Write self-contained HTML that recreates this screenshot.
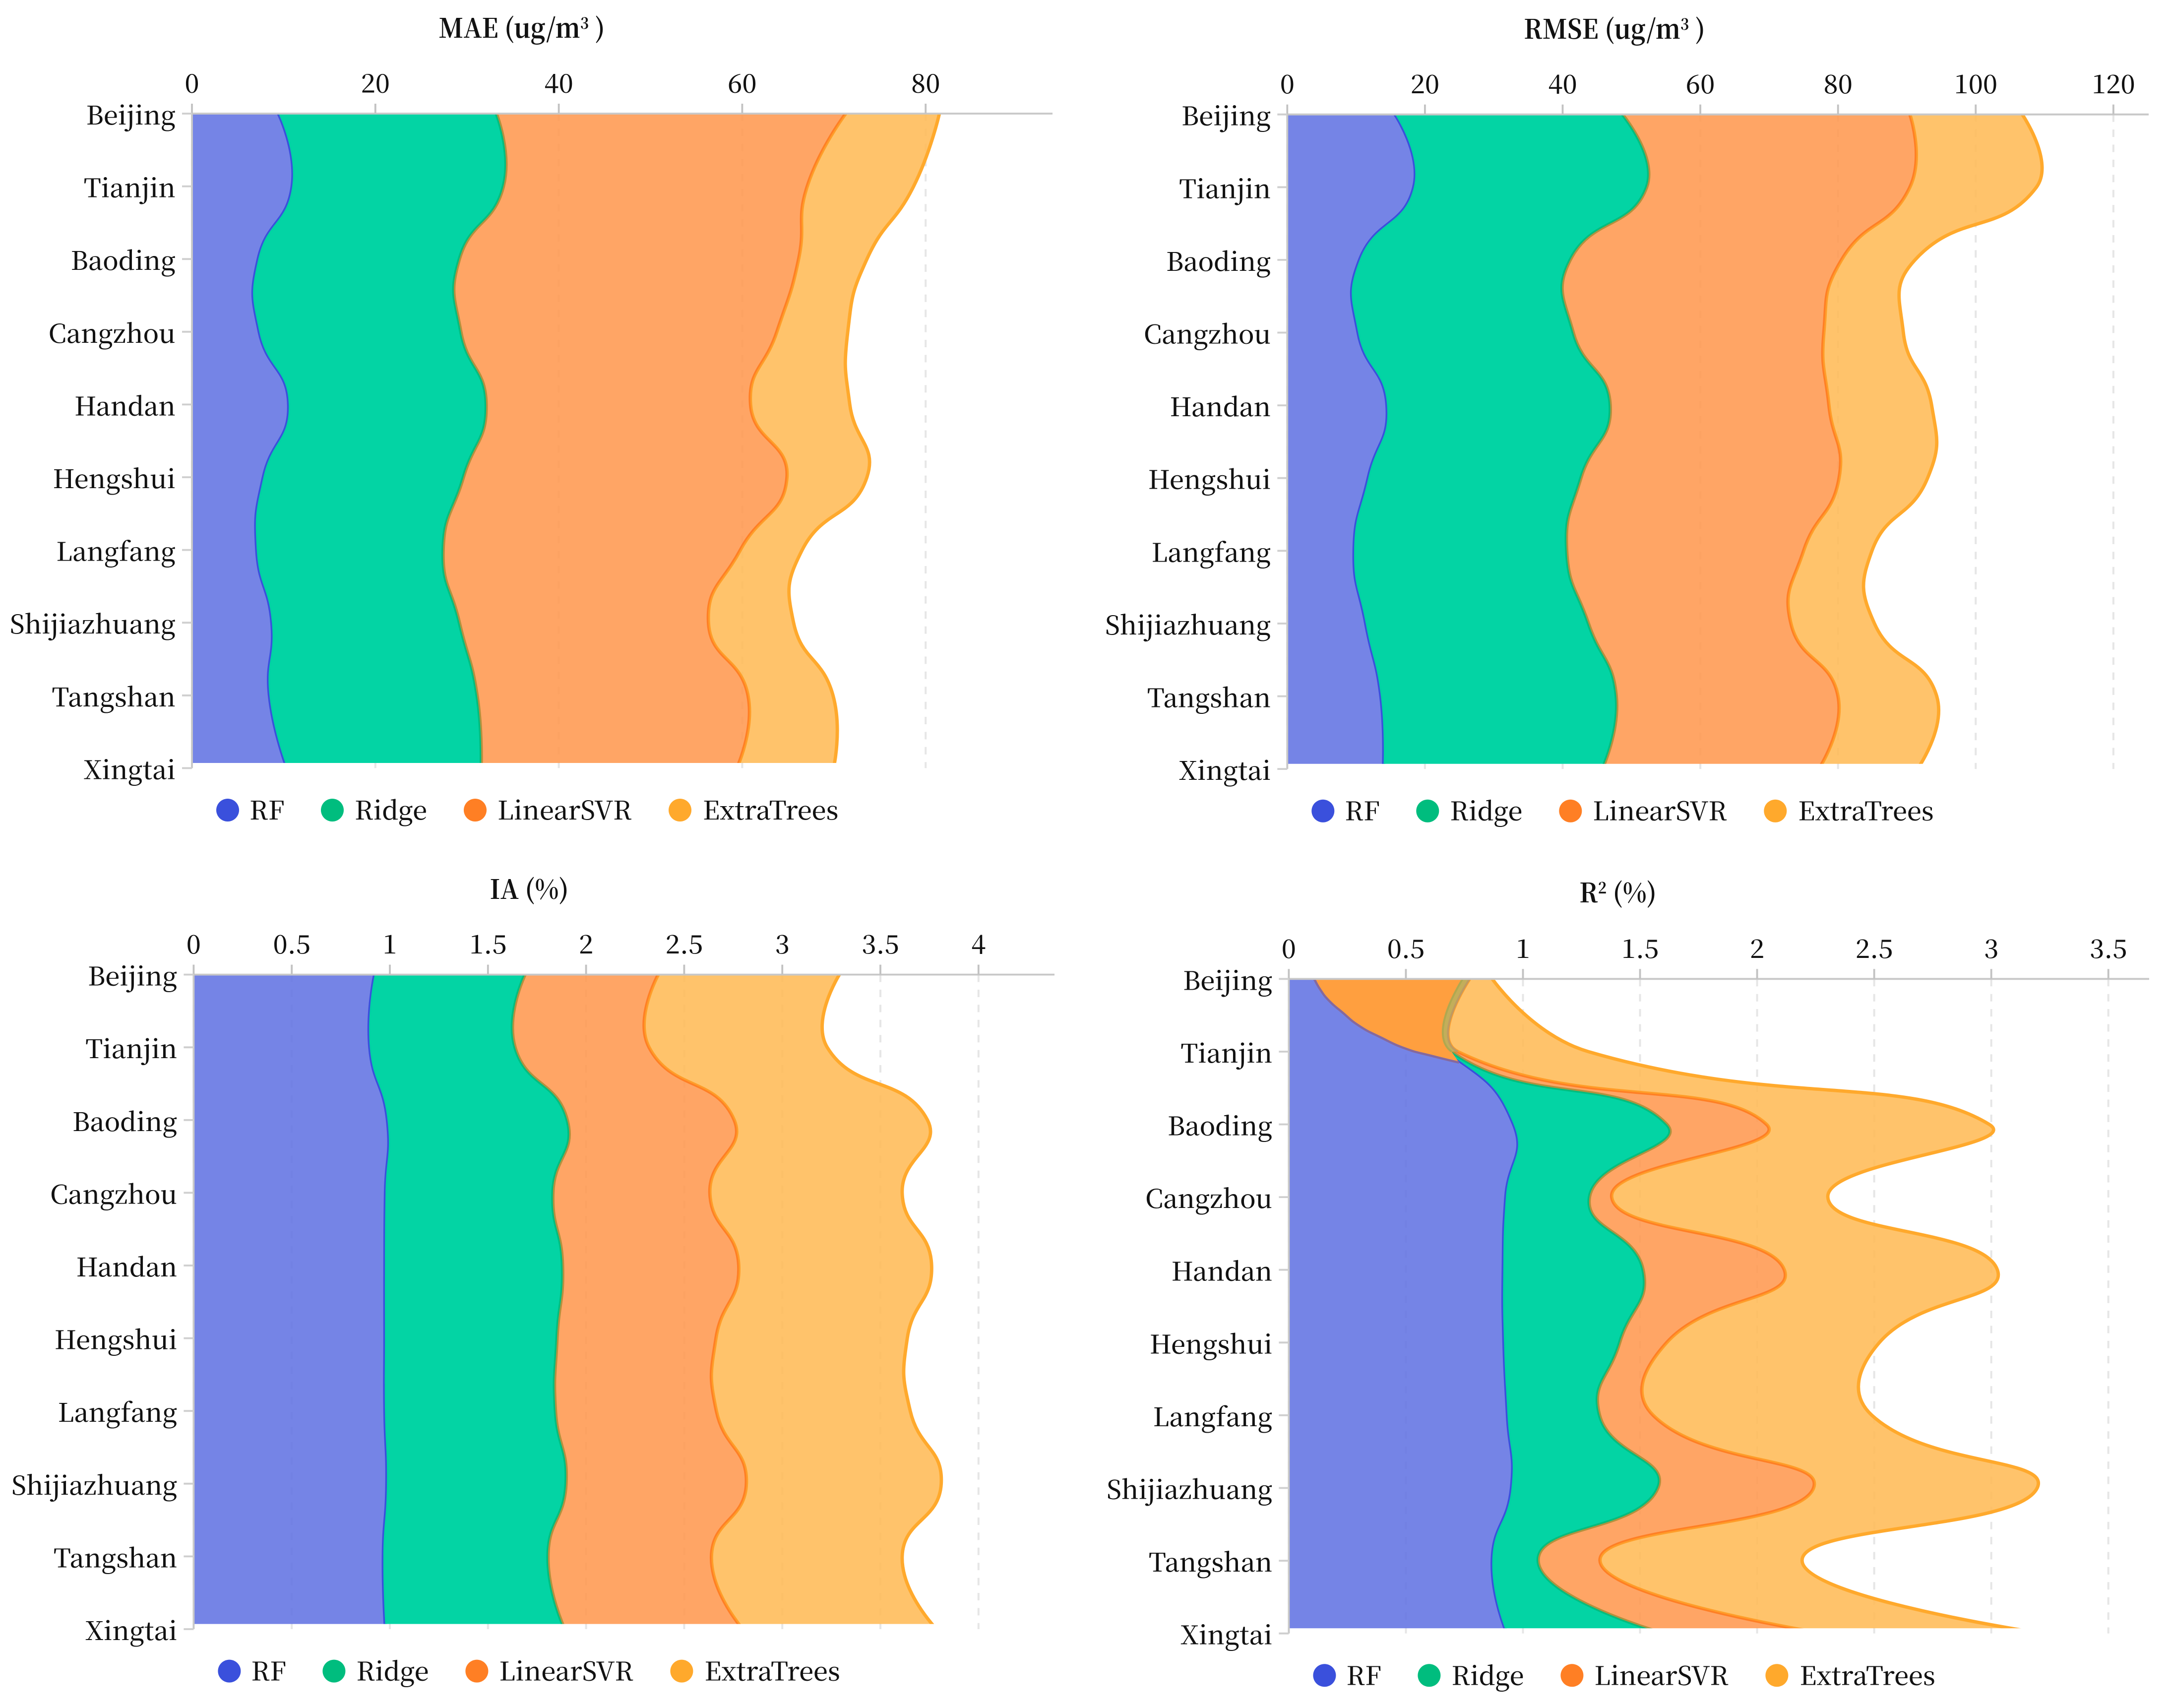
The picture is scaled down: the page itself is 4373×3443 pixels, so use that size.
<!DOCTYPE html>
<html lang="en">
<head>
<meta charset="utf-8">
<title>Air quality model error by city</title>
<style>
html,body{margin:0;padding:0;background:#fff;width:4373px;height:3443px;overflow:hidden}
svg{display:block}
text{font-family:"Noto Serif CJK SC","Liberation Serif",serif;fill:#111}
</style>
</head>
<body>
<svg id="chart" xmlns="http://www.w3.org/2000/svg" width="4373" height="3443" viewBox="0 0 4373 3443">
  <text transform="translate(1052 76) scale(.925 1)" text-anchor="middle" font-size="54" font-weight="700">MAE (ug/m<tspan dy="-18" font-size="32">3</tspan><tspan dy="18"> )</tspan></text>
  <text transform="translate(3255 78) scale(.925 1)" text-anchor="middle" font-size="54" font-weight="700">RMSE (ug/m<tspan dy="-18" font-size="32">3</tspan><tspan dy="18"> )</tspan></text>
  <text transform="translate(1067 1812) scale(.925 1)" text-anchor="middle" font-size="54" font-weight="700">IA (%)</text>
  <text transform="translate(3262 1819) scale(.925 1)" text-anchor="middle" font-size="54" font-weight="700">R<tspan dy="-18" font-size="32">2</tspan><tspan dy="18"> (%)</tspan></text>
</svg>
<script>
const cities = ['Beijing','Tianjin','Baoding','Cangzhou','Handan','Hengshui','Langfang','Shijiazhuang','Tangshan','Xingtai'];
const modelNames = ['RF','Ridge','LinearSVR','ExtraTrees'];

const maeTicks = [0,20,40,60,80];
const maeRf = [9.44,10.93,7.23,7.34,10.55,7.79,7.07,8.72,8.45,10.38];
const maeRidge = [23.75,23.03,21.93,21.98,21.53,21.81,20.32,20.44,22.64,21.15];
const maeSvr = [38.1,33.13,36.99,34.46,28.83,35.28,32.41,27.16,29.54,27.88];
const maeExtra = [10.21,11.6,7.45,7.73,10.82,8.72,6.74,9.28,9.27,10.55];

const rmseTicks = [0,20,40,60,80,100,120];
const rmseRf = [15.66,18.38,10.51,10.29,14.49,11.76,9.71,11.40,13.60,13.97];
const rmseRidge = [33.02,33.82,30.59,31.25,32.42,30.89,30.88,32.35,34.19,31.77];
const rmseSvr = [41.76,38.24,39.41,36.4,31.77,37.5,34.41,29.41,32.21,31.46];
const rmseExtra = [16.32,18.38,10.67,11.55,14.92,12.86,9.93,12.13,14.34,14.34];

const iaTicks = [0,0.5,1,1.5,2,2.5,3,3.5,4];
const iaRf = [.923,.898,.988,.978,.975,.975,.975,.985,.967,.978];
const iaRidge = [.766,.74,.916,.853,.905,.877,.869,.913,.839,.913];
const iaSvr = [.679,.683,.851,.8,.898,.81,.82,.919,.833,.908];
const iaExtra = [.923,.908,.985,.98,.983,.975,.988,.993,.972,.987];

/* R2 panel: the visible stacked levels */
const r2Ticks = [0,0.5,1,1.5,2,2.5,3,3.5];
const r2RfLevel = [.108,.674,.960,.927,.916,.919,.934,.951,.869,.932];
const r2RidgeLevel = [.743,.695,1.614,1.284,1.513,1.413,1.327,1.576,1.065,1.60];
const r2SvrLevel = [.772,.722,2.04,1.379,2.116,1.614,1.556,2.241,1.329,2.282];
const r2ExtraLevel = [.869,1.279,2.991,2.302,3.026,2.522,2.49,3.196,2.192,3.218];
/* negative-R2 overlap region near Beijing: category position vs. value */
const r2OverlapCategory = [0,.15,.3,.45,.64,.8,.96,1.05,1.15];
const r2OverlapValue = [.109,.135,.172,.225,.298,.39,.5,.6,.727];

const SVGNS = 'http://www.w3.org/2000/svg';
const svg = document.getElementById('chart');
const STEP = 146.6, CLIP_H = 1309;
const lineColors = ['#3a50dc','#00bd7e','#ff7f24','#ffa92c'];
const fillColors = ['#3a50dc','#00d3a3','#ff7f24','#ffa92c'];
const fillAlpha = [0.7,0.99,0.7,0.7];
const seriesKeys = ['rf','ridge','linearsvr','extratrees'];

function make(tag, attrs, parent){
  const el = document.createElementNS(SVGNS, tag);
  for (const k in attrs) el.setAttribute(k, attrs[k]);
  parent.appendChild(el);
  return el;
}
function cumulative(list){
  const out = []; let run = cities.map(() => 0);
  list.forEach(arr => { run = run.map((v,i) => v + arr[i]); out.push(run); });
  return out;
}
/* ECharts-style smoothing */
function smoothSegments(pts){
  const n = pts.length, next = [], prev = [];
  for (let i = 0; i < n; i++){
    if (i === 0){ next[i] = pts[0]; continue; }
    if (i === n-1){ prev[i] = pts[i]; continue; }
    const vx = pts[i+1][0]-pts[i-1][0], vy = pts[i+1][1]-pts[i-1][1];
    const d0 = Math.hypot(pts[i][0]-pts[i-1][0], pts[i][1]-pts[i-1][1]);
    const d1 = Math.hypot(pts[i+1][0]-pts[i][0], pts[i+1][1]-pts[i][1]);
    const r = d1/((d0+d1)||1);
    next[i] = [pts[i][0]+vx*.5*r, pts[i][1]+vy*.5*r];
    prev[i] = [pts[i][0]-vx*.5*(1-r), pts[i][1]-vy*.5*(1-r)];
  }
  const segs = [];
  for (let i = 0; i < n-1; i++) segs.push({a:pts[i], c1:next[i], c2:prev[i+1], b:pts[i+1]});
  return segs;
}
const f = v => v.toFixed(2);
function forward(segs){
  return segs.map(s => 'C'+f(s.c1[0])+' '+f(s.c1[1])+' '+f(s.c2[0])+' '+f(s.c2[1])+' '+f(s.b[0])+' '+f(s.b[1])).join('');
}
function backward(segs){
  return segs.slice().reverse().map(s => 'C'+f(s.c2[0])+' '+f(s.c2[1])+' '+f(s.c1[0])+' '+f(s.c1[1])+' '+f(s.a[0])+' '+f(s.a[1])).join('');
}
const startOf = segs => 'M'+f(segs[0].a[0])+' '+f(segs[0].a[1]);

function drawPanel(p){
  const xAt = v => p.x0 + v*p.unit;
  const yAt = c => p.y0 + c*STEP;
  const bottom = yAt(cities.length-1);
  const group = make('g', {}, svg);
  
  

  p.ticks.forEach(t => {
    const grid = make('line', {x1:xAt(t), x2:xAt(t), y1:p.y0, y2:bottom, stroke:'#e6e6e6', 'stroke-width':4, 'stroke-dasharray':'15 15.4'}, group);
    
    
  });

  /* clip */
  const clipId = 'clip-'+p.key;
  const clip = make('clipPath', {id:clipId}, group);
  make('rect', {x:p.x0-4, y:p.y0, width:p.xEnd-p.x0+8, height:CLIP_H}, clip);
  const plot = make('g', {'clip-path':'url(#'+clipId+')'}, group);
  
  

  const pointsFor = levels => levels.map((v,i) => [xAt(v), yAt(i)]);
  const curves = p.levels.map(l => smoothSegments(pointsFor(l)));
  const base = smoothSegments(cities.map((c,i) => [xAt(0), yAt(i)]));

  const outer = curves[curves.length-1];
  const veil = make('path', {d:startOf(outer)+forward(outer)+'L'+f(base[base.length-1].b[0])+' '+f(base[base.length-1].b[1])+backward(base)+'Z', fill:'#fff', 'fill-opacity':.6}, plot);
  
  

  curves.forEach((segs,i) => {
    const lower = i === 0 ? base : curves[i-1];
    const area = make('path', {d:startOf(segs)+forward(segs)+'L'+f(lower[lower.length-1].b[0])+' '+f(lower[lower.length-1].b[1])+backward(lower)+'Z', fill:fillColors[i], 'fill-opacity':fillAlpha[i]}, plot);
    
    
    const stroke = make('path', {d:startOf(segs)+forward(segs), fill:'none', stroke:lineColors[i], 'stroke-width':6.8, 'stroke-linejoin':'round'}, plot);
    
    
  });

  if (p.overlap){
    const edge = smoothSegments(p.overlap.cats.map((c,i) => [xAt(p.overlap.vals[i]), yAt(c)]));
    const ridgeTop = [curves[1][0]], svrTop = [curves[2][0]];
    const region = make('path', {d:startOf(edge)+forward(edge)+'L'+f(ridgeTop[0].b[0])+' '+f(ridgeTop[0].b[1])+backward(ridgeTop)+'Z', fill:'#ff9f3f'}, plot);
    
    
    const olive = make('path', {d:startOf(ridgeTop)+forward(ridgeTop)+'L'+f(svrTop[0].b[0])+' '+f(svrTop[0].b[1])+backward(svrTop)+'Z', fill:'#c3ae5a'}, plot);
    
    
    const edgeLine = make('path', {d:startOf(edge)+forward(edge), fill:'none', stroke:'#85699e', 'stroke-width':4.5}, plot);
    
    
    const ridgeEdge = make('path', {d:startOf(ridgeTop)+forward(ridgeTop), fill:'none', stroke:'#b0a850', 'stroke-width':4}, plot);
    
    
    const svrEdge = make('path', {d:startOf(svrTop)+forward(svrTop), fill:'none', stroke:'#c09a60', 'stroke-width':4}, plot);
    
    
  }

  /* axes */
  const xAxis = make('line', {x1:p.x0, x2:p.xEnd, y1:p.y0, y2:p.y0, stroke:'#c8c8c8', 'stroke-width':3.8}, group);
  
  
  const yAxis = make('line', {x1:p.x0, x2:p.x0, y1:p.y0, y2:bottom, stroke:'#c8c8c8', 'stroke-width':3.8}, group);
  
  

  p.ticks.forEach(t => {
    const tick = make('line', {x1:xAt(t), x2:xAt(t), y1:p.y0-20, y2:p.y0, stroke:'#c2c2c2', 'stroke-width':3.8}, group);
    
    
    const label = make('text', {x:xAt(t), y:p.y0-42.5, 'text-anchor':'middle', 'font-size':52, 'font-weight':500}, group);
    label.textContent = String(t);
    
    
  });
  cities.forEach((c,i) => {
    const tick = make('line', {x1:p.x0-20, x2:p.x0, y1:yAt(i), y2:yAt(i), stroke:'#cfcfcf', 'stroke-width':3.8}, group);
    
    
    const label = make('text', {x:p.x0-33, y:yAt(i)+22, 'text-anchor':'end', 'font-size':52, 'font-weight':500}, group);
    label.textContent = c;
    
    
  });

  /* legend */
  const legendY = p.y0 + 1404;
  const circleOffsets = [72,283,571,984];
  const textOffsets = [116,328,616,1030];
  modelNames.forEach((m,i) => {
    const item = make('g', {}, group);
    
    
    make('circle', {cx:p.x0+circleOffsets[i], cy:legendY, r:23, fill:lineColors[i]}, item);
    const label = make('text', {x:p.x0+textOffsets[i], y:legendY+19, 'font-size':52, 'font-weight':500}, item);
    label.textContent = m;
  });
}

drawPanel({key:'mae', x0:387, y0:229, unit:18.49, xEnd:2122, ticks:maeTicks, levels:cumulative([maeRf,maeRidge,maeSvr,maeExtra])});
drawPanel({key:'rmse', x0:2595.3, y0:230.7, unit:13.88, xEnd:4332, ticks:rmseTicks, levels:cumulative([rmseRf,rmseRidge,rmseSvr,rmseExtra])});
drawPanel({key:'ia', x0:390.4, y0:1964.6, unit:395.6, xEnd:2126, ticks:iaTicks, levels:cumulative([iaRf,iaRidge,iaSvr,iaExtra])});
drawPanel({key:'r2', x0:2598.4, y0:1973.3, unit:472.1, xEnd:4333, ticks:r2Ticks, levels:[r2RfLevel,r2RidgeLevel,r2SvrLevel,r2ExtraLevel], overlap:{cats:r2OverlapCategory, vals:r2OverlapValue}});
</script>
</body>
</html>
